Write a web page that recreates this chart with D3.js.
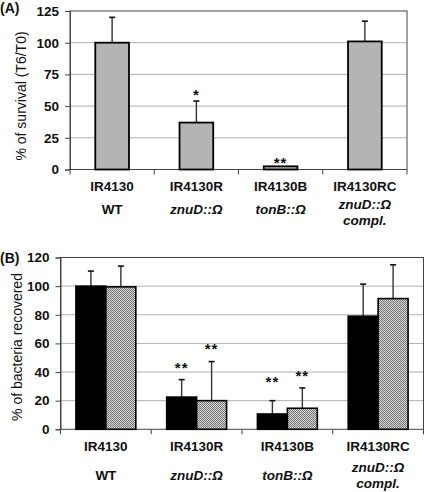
<!DOCTYPE html>
<html><head><meta charset="utf-8">
<script src="https://cdn.jsdelivr.net/npm/d3@7"></script>
<style>body{margin:0;background:#fff}svg{display:block;font-family:"Liberation Sans",Arial,sans-serif}</style>
</head><body><svg id="c" width="425" height="492"></svg>
<script>
const categories = ["IR4130","IR4130R","IR4130B","IR4130RC"];
const genotype1 = ["WT","znuD::Ω","tonB::Ω","znuD::Ω"];
const genotype2 = ["","","","compl."];
const survival = [100, 37, 2.5, 101];
const survivalErr = [20, 17, 0, 16];
const survivalSig = ["", "*", "**", ""];
const survivalSigPos = [null, 60, 7, null];
const yTicksA = [0,25,50,75,100,125];

const recBlack = [100, 22.5, 10.7, 79];
const recBlackErr = [10.5, 12.2, 9.3, 22.4];
const recHatch = [99.5, 20, 14.7, 91.3];
const recHatchErr = [14.5, 27.3, 14.2, 23.6];
const recBlackSig = ["", "**", "**", ""];
const recBlackSigPos = [null, 44.3, 34.5, null];
const recHatchSig = ["", "**", "**", ""];
const recHatchSigPos = [null, 57.8, 38.5, null];
const yTicksB = [0,20,40,60,80,100,120];

const FS = "13.5px";
const svg = d3.select("#c");
const defs = svg.append("defs");
const pat = defs.append("pattern").attr("id","hatch").attr("patternUnits","userSpaceOnUse").attr("width",2).attr("height",2);
pat.append("rect").attr("width",2).attr("height",2).attr("fill","#d2d2d2");
pat.append("rect").attr("x",0).attr("y",0).attr("width",1).attr("height",1).attr("fill","#7a7a7a");
pat.append("rect").attr("x",1).attr("y",1).attr("width",1).attr("height",1).attr("fill","#7a7a7a");

function frame(g, x0, x1, y, ticks, yLabel, labelX, labelY) {
  g.selectAll(".grid").data(ticks.slice(1, -1)).join("line")
    .attr("x1", x0).attr("x2", x1).attr("y1", d => y(d)).attr("y2", d => y(d))
    .attr("stroke", "#b0b0b0").attr("stroke-width", 1);
  const yTop = y(ticks[ticks.length-1]), yBot = y(0);
  g.append("rect").attr("x", x0).attr("y", yTop).attr("width", x1-x0).attr("height", yBot-yTop)
    .attr("fill","none").attr("stroke","#444").attr("stroke-width",1);
  const ax = g.append("g").attr("transform", `translate(${x0},0)`)
    .call(d3.axisLeft(y).tickValues(ticks).tickSize(5).tickPadding(6));
  ax.select(".domain").attr("stroke","#444");
  ax.selectAll(".tick line").attr("stroke","#444");
  ax.selectAll("text").attr("font-size",FS).attr("font-weight","bold").attr("fill","#111")
    .attr("font-family","'Liberation Sans',Arial,sans-serif");
  g.append("text").attr("transform", `translate(${labelX},${labelY}) rotate(-90)`)
    .attr("text-anchor","middle").attr("dominant-baseline","central")
    .attr("font-size","14px").attr("fill","#111").text(yLabel);
}

function xLabels(g, x, yA, y1, y1b, y2) {
  const n = categories.length;
  const bw = x.step();
  const bounds = d3.range(n+1).map(i => x.range()[0] + i*bw);
  g.selectAll(".xt").data(bounds).join("line")
    .attr("x1", d=>d).attr("x2", d=>d).attr("y1", yA).attr("y2", yA+5).attr("stroke","#444");
  categories.forEach((c,i) => {
    const cx = x(c) + x.bandwidth()/2;
    g.append("text").attr("x", cx).attr("y", y1).attr("text-anchor","middle")
      .attr("font-size",FS).attr("font-weight","bold").attr("fill","#111").text(c);
    const two = genotype2[i] !== "";
    g.append("text").attr("x", cx).attr("y", two ? y1b : y2).attr("text-anchor","middle")
      .attr("font-size",FS).attr("font-weight","bold").attr("fill","#111")
      .attr("font-style", i===0 ? "normal" : "italic").text(genotype1[i]);
    if (two) g.append("text").attr("x", cx).attr("y", y1b + 16).attr("text-anchor","middle")
      .attr("font-size",FS).attr("font-weight","bold").attr("font-style","italic").attr("fill","#111").text(genotype2[i]);
  });
}

function errBar(g, cx, y, v, e) {
  if (!e) return;
  g.append("line").attr("x1",cx).attr("x2",cx).attr("y1",y(v)).attr("y2",y(v+e)).attr("stroke","#333").attr("stroke-width",1.4);
  g.append("line").attr("x1",cx-3).attr("x2",cx+3).attr("y1",y(v+e)).attr("y2",y(v+e)).attr("stroke","#111").attr("stroke-width",1.6);
}
function sig(g, cx, y, pos, s) {
  if (!s) return;
  g.append("text").attr("x",cx).attr("y",y(pos)+7).attr("text-anchor","middle")
    .attr("font-size","15px").attr("font-weight","bold").attr("letter-spacing","1px").attr("fill","#111").text(s);
}

// ---------- Panel A ----------
const gA = svg.append("g");
const xA = d3.scaleBand().domain(categories).range([70, 407]).paddingInner(0).paddingOuter(0);
const yA = d3.scaleLinear().domain([0,125]).range([169.5, 11]);
frame(gA, 70, 407, yA, yTicksA, "% of survival (T6/T0)", 20.5, 96);
const bwA = xA.bandwidth()*0.4;
categories.forEach((c,i) => {
  const cx = xA(c) + xA.bandwidth()/2;
  errBar(gA, cx, yA, survival[i], survivalErr[i]);
  gA.append("rect").attr("x", cx-bwA/2).attr("y", yA(survival[i])).attr("width", bwA)
    .attr("height", yA(0)-yA(survival[i])).attr("fill","#b4b4b4").attr("stroke","#000").attr("stroke-width",1.8);
  sig(gA, cx, yA, survivalSigPos[i], survivalSig[i]);
});
xLabels(gA, xA, 169.5, 190.5, 208.5, 213.5);
svg.append("text").attr("x",0).attr("y",13).attr("font-size","14px").attr("font-weight","bold").attr("fill","#111").text("(A)");

// ---------- Panel B ----------
const gB = svg.append("g");
const xB = d3.scaleBand().domain(categories).range([60.5, 423.5]).paddingInner(0).paddingOuter(0);
const yB = d3.scaleLinear().domain([0,120]).range([429.3, 257.5]);
frame(gB, 60.5, 423.5, yB, yTicksB, "% of bacteria recovered", 17, 347);
const sub = d3.scaleBand().domain(["black","hatch"]).range([0, xB.bandwidth()*0.66]);
categories.forEach((c,i) => {
  const gx = xB(c) + xB.bandwidth()*0.17;
  const series = [
    {k:"black", v:recBlack[i], e:recBlackErr[i], s:recBlackSig[i], p:recBlackSigPos[i], fill:"#000"},
    {k:"hatch", v:recHatch[i], e:recHatchErr[i], s:recHatchSig[i], p:recHatchSigPos[i], fill:"url(#hatch)"}
  ];
  series.forEach(d => {
    const bx = gx + sub(d.k), cx = bx + sub.bandwidth()/2;
    errBar(gB, cx, yB, d.v, d.e);
    gB.append("rect").attr("x", bx).attr("y", yB(d.v)).attr("width", sub.bandwidth())
      .attr("height", yB(0)-yB(d.v)).attr("fill", d.fill).attr("stroke","#000").attr("stroke-width",1.6);
    sig(gB, cx, yB, d.p, d.s);
  });
});
xLabels(gB, xB, 429.3, 451, 472, 480);
svg.append("text").attr("x",0).attr("y",263).attr("font-size","14px").attr("font-weight","bold").attr("fill","#111").text("(B)");
</script></body></html>
